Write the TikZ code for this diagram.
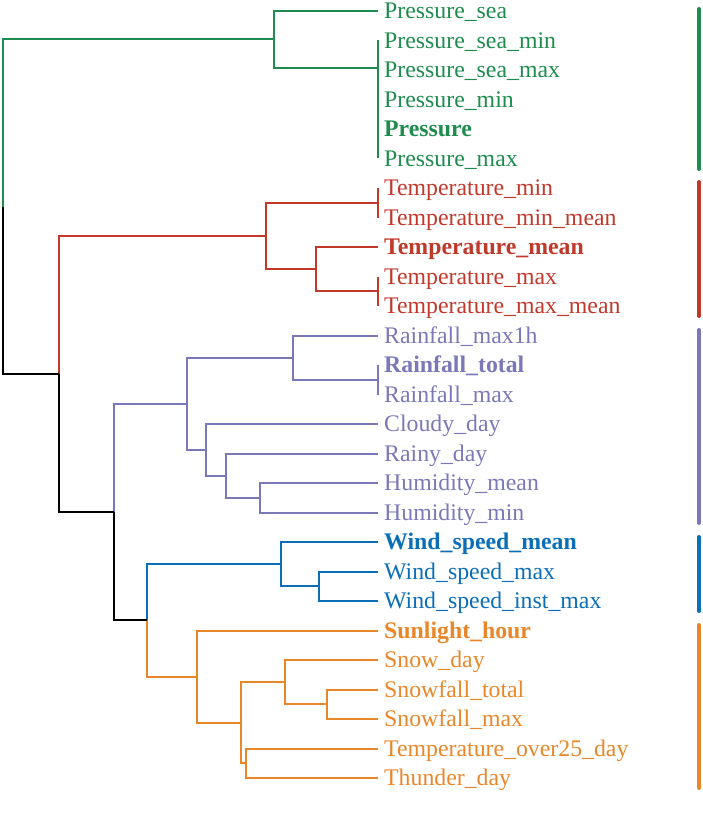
\documentclass[tikz,border=0pt]{standalone}
\usepackage{fontspec}
\setmainfont{Liberation Serif}
\usetikzlibrary{calc}
\definecolor{cg}{RGB}{30,140,78}
\definecolor{cr}{RGB}{192,57,43}
\definecolor{cp}{RGB}{123,120,184}
\definecolor{cb}{RGB}{11,111,184}
\definecolor{co}{RGB}{232,135,42}
\begin{document}
\begin{tikzpicture}[x=1pt,y=-1pt,
  link/.style={line width=2pt},
  lab/.style={anchor=base west, inner sep=0pt, font=\fontsize{23.8}{28}\selectfont},
  bar/.style={line width=4pt, line cap=round}]
\useasboundingbox (0,0) rectangle (703,829);
% leaf end points
\foreach \i in {0,...,26}{\coordinate (L\i) at (378,{11+29.5*\i});}
% labels
\node[lab,text=cg] (t0) at ($(L0)+(6,7.8)$) {Pressure\_sea};
\node[lab,text=cg] (t1) at ($(L1)+(6,7.8)$) {Pressure\_sea\_min};
\node[lab,text=cg] (t2) at ($(L2)+(6,7.8)$) {Pressure\_sea\_max};
\node[lab,text=cg] (t3) at ($(L3)+(6,7.8)$) {Pressure\_min};
\node[lab,text=cg] (t4) at ($(L4)+(6,7.8)$) {\bfseries Pressure};
\node[lab,text=cg] (t5) at ($(L5)+(6,7.8)$) {Pressure\_max};
\node[lab,text=cr] (t6) at ($(L6)+(6,7.8)$) {Temperature\_min};
\node[lab,text=cr] (t7) at ($(L7)+(6,7.8)$) {Temperature\_min\_mean};
\node[lab,text=cr] (t8) at ($(L8)+(6,7.8)$) {\bfseries Temperature\_mean};
\node[lab,text=cr] (t9) at ($(L9)+(6,7.8)$) {Temperature\_max};
\node[lab,text=cr] (t10) at ($(L10)+(6,7.8)$) {Temperature\_max\_mean};
\node[lab,text=cp] (t11) at ($(L11)+(6,7.8)$) {Rainfall\_max1h};
\node[lab,text=cp] (t12) at ($(L12)+(6,7.8)$) {\bfseries Rainfall\_total};
\node[lab,text=cp] (t13) at ($(L13)+(6,7.8)$) {Rainfall\_max};
\node[lab,text=cp] (t14) at ($(L14)+(6,7.8)$) {Cloudy\_day};
\node[lab,text=cp] (t15) at ($(L15)+(6,7.8)$) {Rainy\_day};
\node[lab,text=cp] (t16) at ($(L16)+(6,7.8)$) {Humidity\_mean};
\node[lab,text=cp] (t17) at ($(L17)+(6,7.8)$) {Humidity\_min};
\node[lab,text=cb] (t18) at ($(L18)+(6,7.8)$) {\bfseries Wind\_speed\_mean};
\node[lab,text=cb] (t19) at ($(L19)+(6,7.8)$) {Wind\_speed\_max};
\node[lab,text=cb] (t20) at ($(L20)+(6,7.8)$) {Wind\_speed\_inst\_max};
\node[lab,text=co] (t21) at ($(L21)+(6,7.8)$) {\bfseries Sunlight\_hour};
\node[lab,text=co] (t22) at ($(L22)+(6,7.8)$) {Snow\_day};
\node[lab,text=co] (t23) at ($(L23)+(6,7.8)$) {Snowfall\_total};
\node[lab,text=co] (t24) at ($(L24)+(6,7.8)$) {Snowfall\_max};
\node[lab,text=co] (t25) at ($(L25)+(6,7.8)$) {Temperature\_over25\_day};
\node[lab,text=co] (t26) at ($(L26)+(6,7.8)$) {Thunder\_day};
% merge points
\coordinate (g1) at (378,68);
\coordinate (g2) at (274,39.5);
\coordinate (r1) at (378,202.75);
\coordinate (r2) at (378,291.25);
\coordinate (r3) at (316,269.1);
\coordinate (r4) at (266,235.9);
\coordinate (p1) at (378,379.75);
\coordinate (p2) at (293,357.6);
\coordinate (p3) at (260,497.75);
\coordinate (p4) at (226,475.6);
\coordinate (p5) at (205.5,449.8);
\coordinate (p6) at (187,403.7);
\coordinate (w1) at (319,586.25);
\coordinate (w2) at (281,564.1);
\coordinate (o1) at (327,704.25);
\coordinate (o2) at (285,682.1);
\coordinate (o3) at (246,763.25);
\coordinate (o4) at (241,722.7);
\coordinate (o5) at (197,676.6);
\coordinate (b3) at (147,620.4);
\coordinate (b2) at (114,512);
\coordinate (b1) at (59,374);
\coordinate (root) at (3,206.75);
% green
\draw[link,cg] (L1) -- (L5);
\draw[link,cg] (L0) -| (g2);
\draw[link,cg] (g1) -| (g2);
\draw[link,cg] (g2) -| (root);
% red
\draw[link,cr] (L6) -- (L7);
\draw[link,cr] (L9) -- (L10);
\draw[link,cr] (L8) -| (r3);
\draw[link,cr] (r2) -| (r3);
\draw[link,cr] (r1) -| (r4);
\draw[link,cr] (r3) -| (r4);
\draw[link,cr] (r4) -| (b1);
% purple
\draw[link,cp] (L12) -- (L13);
\draw[link,cp] (L11) -| (p2);
\draw[link,cp] (p1) -| (p2);
\draw[link,cp] (L16) -| (p3);
\draw[link,cp] (L17) -| (p3);
\draw[link,cp] (L15) -| (p4);
\draw[link,cp] (p3) -| (p4);
\draw[link,cp] (L14) -| (p5);
\draw[link,cp] (p4) -| (p5);
\draw[link,cp] (p2) -| (p6);
\draw[link,cp] (p5) -| (p6);
\draw[link,cp] (p6) -| (b2);
% blue
\draw[link,cb] (L19) -| (w1);
\draw[link,cb] (L20) -| (w1);
\draw[link,cb] (L18) -| (w2);
\draw[link,cb] (w1) -| (w2);
\draw[link,cb] (w2) -| (b3);
% orange
\draw[link,co] (L23) -| (o1);
\draw[link,co] (L24) -| (o1);
\draw[link,co] (L22) -| (o2);
\draw[link,co] (o1) -| (o2);
\draw[link,co] (L25) -| (o3);
\draw[link,co] (L26) -| (o3);
\draw[link,co] (o2) -| (o4);
\draw[link,co] (o3) -| (o4);
\draw[link,co] (L21) -| (o5);
\draw[link,co] (o4) -| (o5);
\draw[link,co] (o5) -| (b3);
% black
\draw[link,black] (b3) -| (b2);
\draw[link,black] (b2) -| (b1);
\draw[link,black] (b1) -| (root);
% cluster bars
\draw[bar,cg] (699,9) -- (699,169);
\draw[bar,cr] (699,182) -- (699,316);
\draw[bar,cp] (699,330) -- (699,523);
\draw[bar,cb] (699,537) -- (699,611);
\draw[bar,co] (699,625) -- (699,788);
\end{tikzpicture}
\end{document}
